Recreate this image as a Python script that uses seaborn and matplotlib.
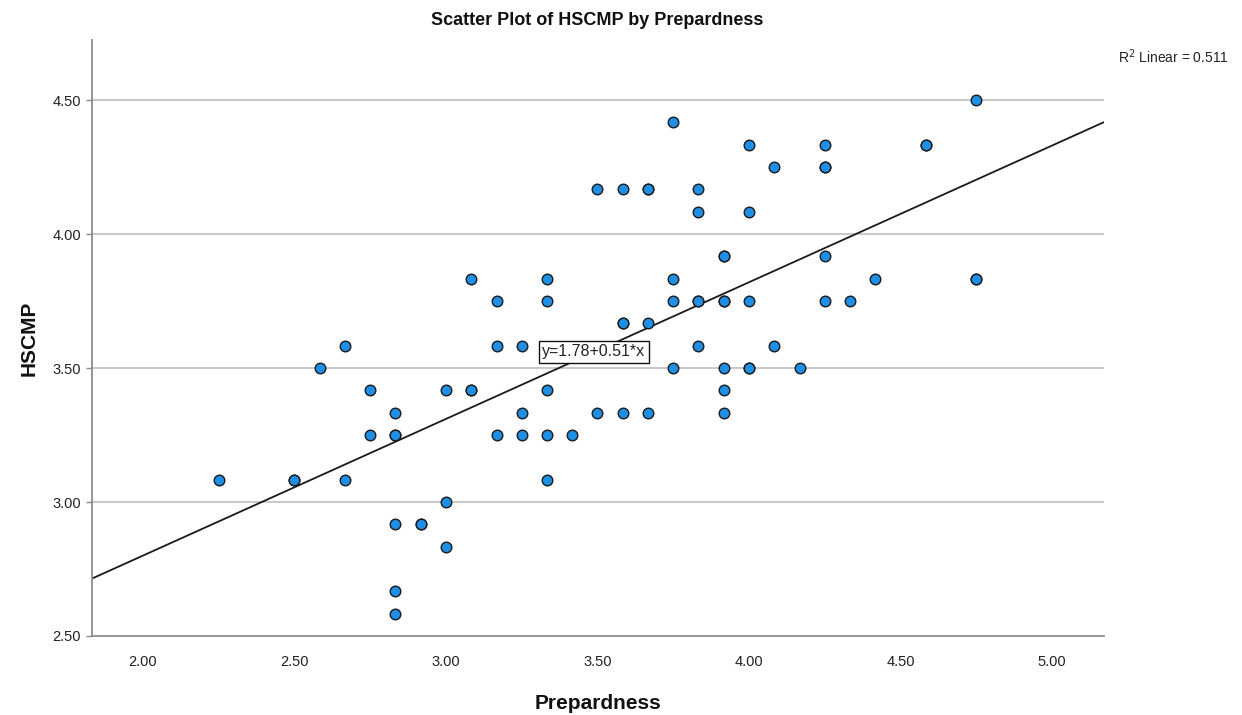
import matplotlib
matplotlib.use("Agg")
import matplotlib.pyplot as plt
import seaborn as sns
import pandas as pd

# ---- data ----
prepardness = [2.25, 2.50, 2.50, 2.583, 2.667, 2.667, 2.75, 2.75, 2.833, 2.833, 2.833,
               2.833, 2.833, 2.833, 2.917, 2.917, 3.00, 3.00, 3.00, 3.083, 3.083, 3.083,
               3.167, 3.167, 3.167, 3.25, 3.25, 3.25, 3.333, 3.333, 3.333, 3.333, 3.333,
               3.417, 3.50, 3.50, 3.583, 3.583, 3.583, 3.583, 3.667, 3.667, 3.667, 3.667,
               3.75, 3.75, 3.75, 3.75, 3.833, 3.833, 3.833, 3.833, 3.833, 3.917, 3.917,
               3.917, 3.917, 3.917, 3.917, 3.917, 4.00, 4.00, 4.00, 4.00, 4.00, 4.083,
               4.083, 4.167, 4.25, 4.25, 4.25, 4.25, 4.25, 4.333, 4.417, 4.583, 4.583,
               4.75, 4.75, 4.75]
hscmp = [3.083, 3.083, 3.083, 3.50, 3.583, 3.083, 3.417, 3.25, 3.333, 3.25, 3.25,
         2.917, 2.667, 2.583, 2.917, 2.917, 3.417, 3.00, 2.833, 3.833, 3.417, 3.417,
         3.75, 3.583, 3.25, 3.583, 3.333, 3.25, 3.833, 3.75, 3.417, 3.25, 3.083,
         3.25, 4.167, 3.333, 4.167, 3.667, 3.667, 3.333, 4.167, 4.167, 3.667, 3.333,
         4.417, 3.833, 3.75, 3.50, 4.167, 4.083, 3.75, 3.75, 3.583, 3.917, 3.917,
         3.75, 3.75, 3.50, 3.417, 3.333, 4.333, 4.083, 3.75, 3.50, 3.50, 4.25,
         3.583, 3.50, 4.333, 4.25, 4.25, 3.917, 3.75, 3.75, 3.833, 4.333, 4.333,
         4.50, 3.833, 3.833]

intercept = 1.78
slope = 0.51
r_squared = 0.511

x_ticks = [2.00, 2.50, 3.00, 3.50, 4.00, 4.50, 5.00]
y_ticks = [2.50, 3.00, 3.50, 4.00, 4.50]

df = pd.DataFrame({"Prepardness": prepardness, "HSCMP": hscmp})

# ---- style ----
sns.set_style("white")
plt.rcParams['font.family'] = ['Liberation Sans', 'DejaVu Sans']

fig = plt.figure(figsize=(12.42, 7.15), dpi=100)
ax = fig.add_axes([0.0741, 0.1105, 0.8148, 0.8335])

sns.scatterplot(data=df, x="Prepardness", y="HSCMP", ax=ax,
                color="#1f8fe6", edgecolor="#1a1a1a", linewidth=1.0,
                s=58, zorder=3, legend=False)

ax.axline((0, intercept), slope=slope, color="#1a1a1a", linewidth=1.3, zorder=2)

ax.set_xlim(1.832, 5.172)
ax.set_ylim(2.50, 4.724)
ax.set_xticks(x_ticks)
ax.set_yticks(y_ticks)
ax.set_xticklabels([f"{v:.2f}" for v in x_ticks], fontsize=10.5, color="#222222")
ax.set_yticklabels([f"{v:.2f}" for v in y_ticks], fontsize=10.5, color="#222222")

for v in y_ticks[1:]:
    ax.axhline(v, color="#c4c4c4", linewidth=1.3, zorder=1)

for side in ["top", "right"]:
    ax.spines[side].set_visible(False)
for side in ["left", "bottom"]:
    ax.spines[side].set_color("#8c8c8c")
    ax.spines[side].set_linewidth(1.3)

ax.tick_params(axis="y", which="both", left=True, length=4, width=1, color="#8c8c8c", pad=4)
ax.tick_params(axis="x", which="both", bottom=False, pad=10)

ax.set_xlabel("Prepardness", fontsize=15, fontweight="bold", labelpad=18, color="#111111")
ax.set_ylabel("HSCMP", fontsize=15, fontweight="bold", labelpad=10, color="#111111")

fig.text(0.481, 0.971, "Scatter Plot of HSCMP by Prepardness", ha="center", va="center",
         fontsize=13, fontweight="bold", color="#111111")
fig.text(0.9895, 0.920, f"R$^2$ Linear = {r_squared:.3f}", ha="right", va="center",
         fontsize=10, color="#222222")

ax.text(3.318, 3.56, f"y={intercept:.2f}+{slope:.2f}*x", ha="left", va="center",
        fontsize=11.5, color="#222222", zorder=5,
        bbox=dict(boxstyle="square,pad=0.2", facecolor="white", edgecolor="#111111", linewidth=1))

fig.savefig("out.png", dpi=100, facecolor="white")
